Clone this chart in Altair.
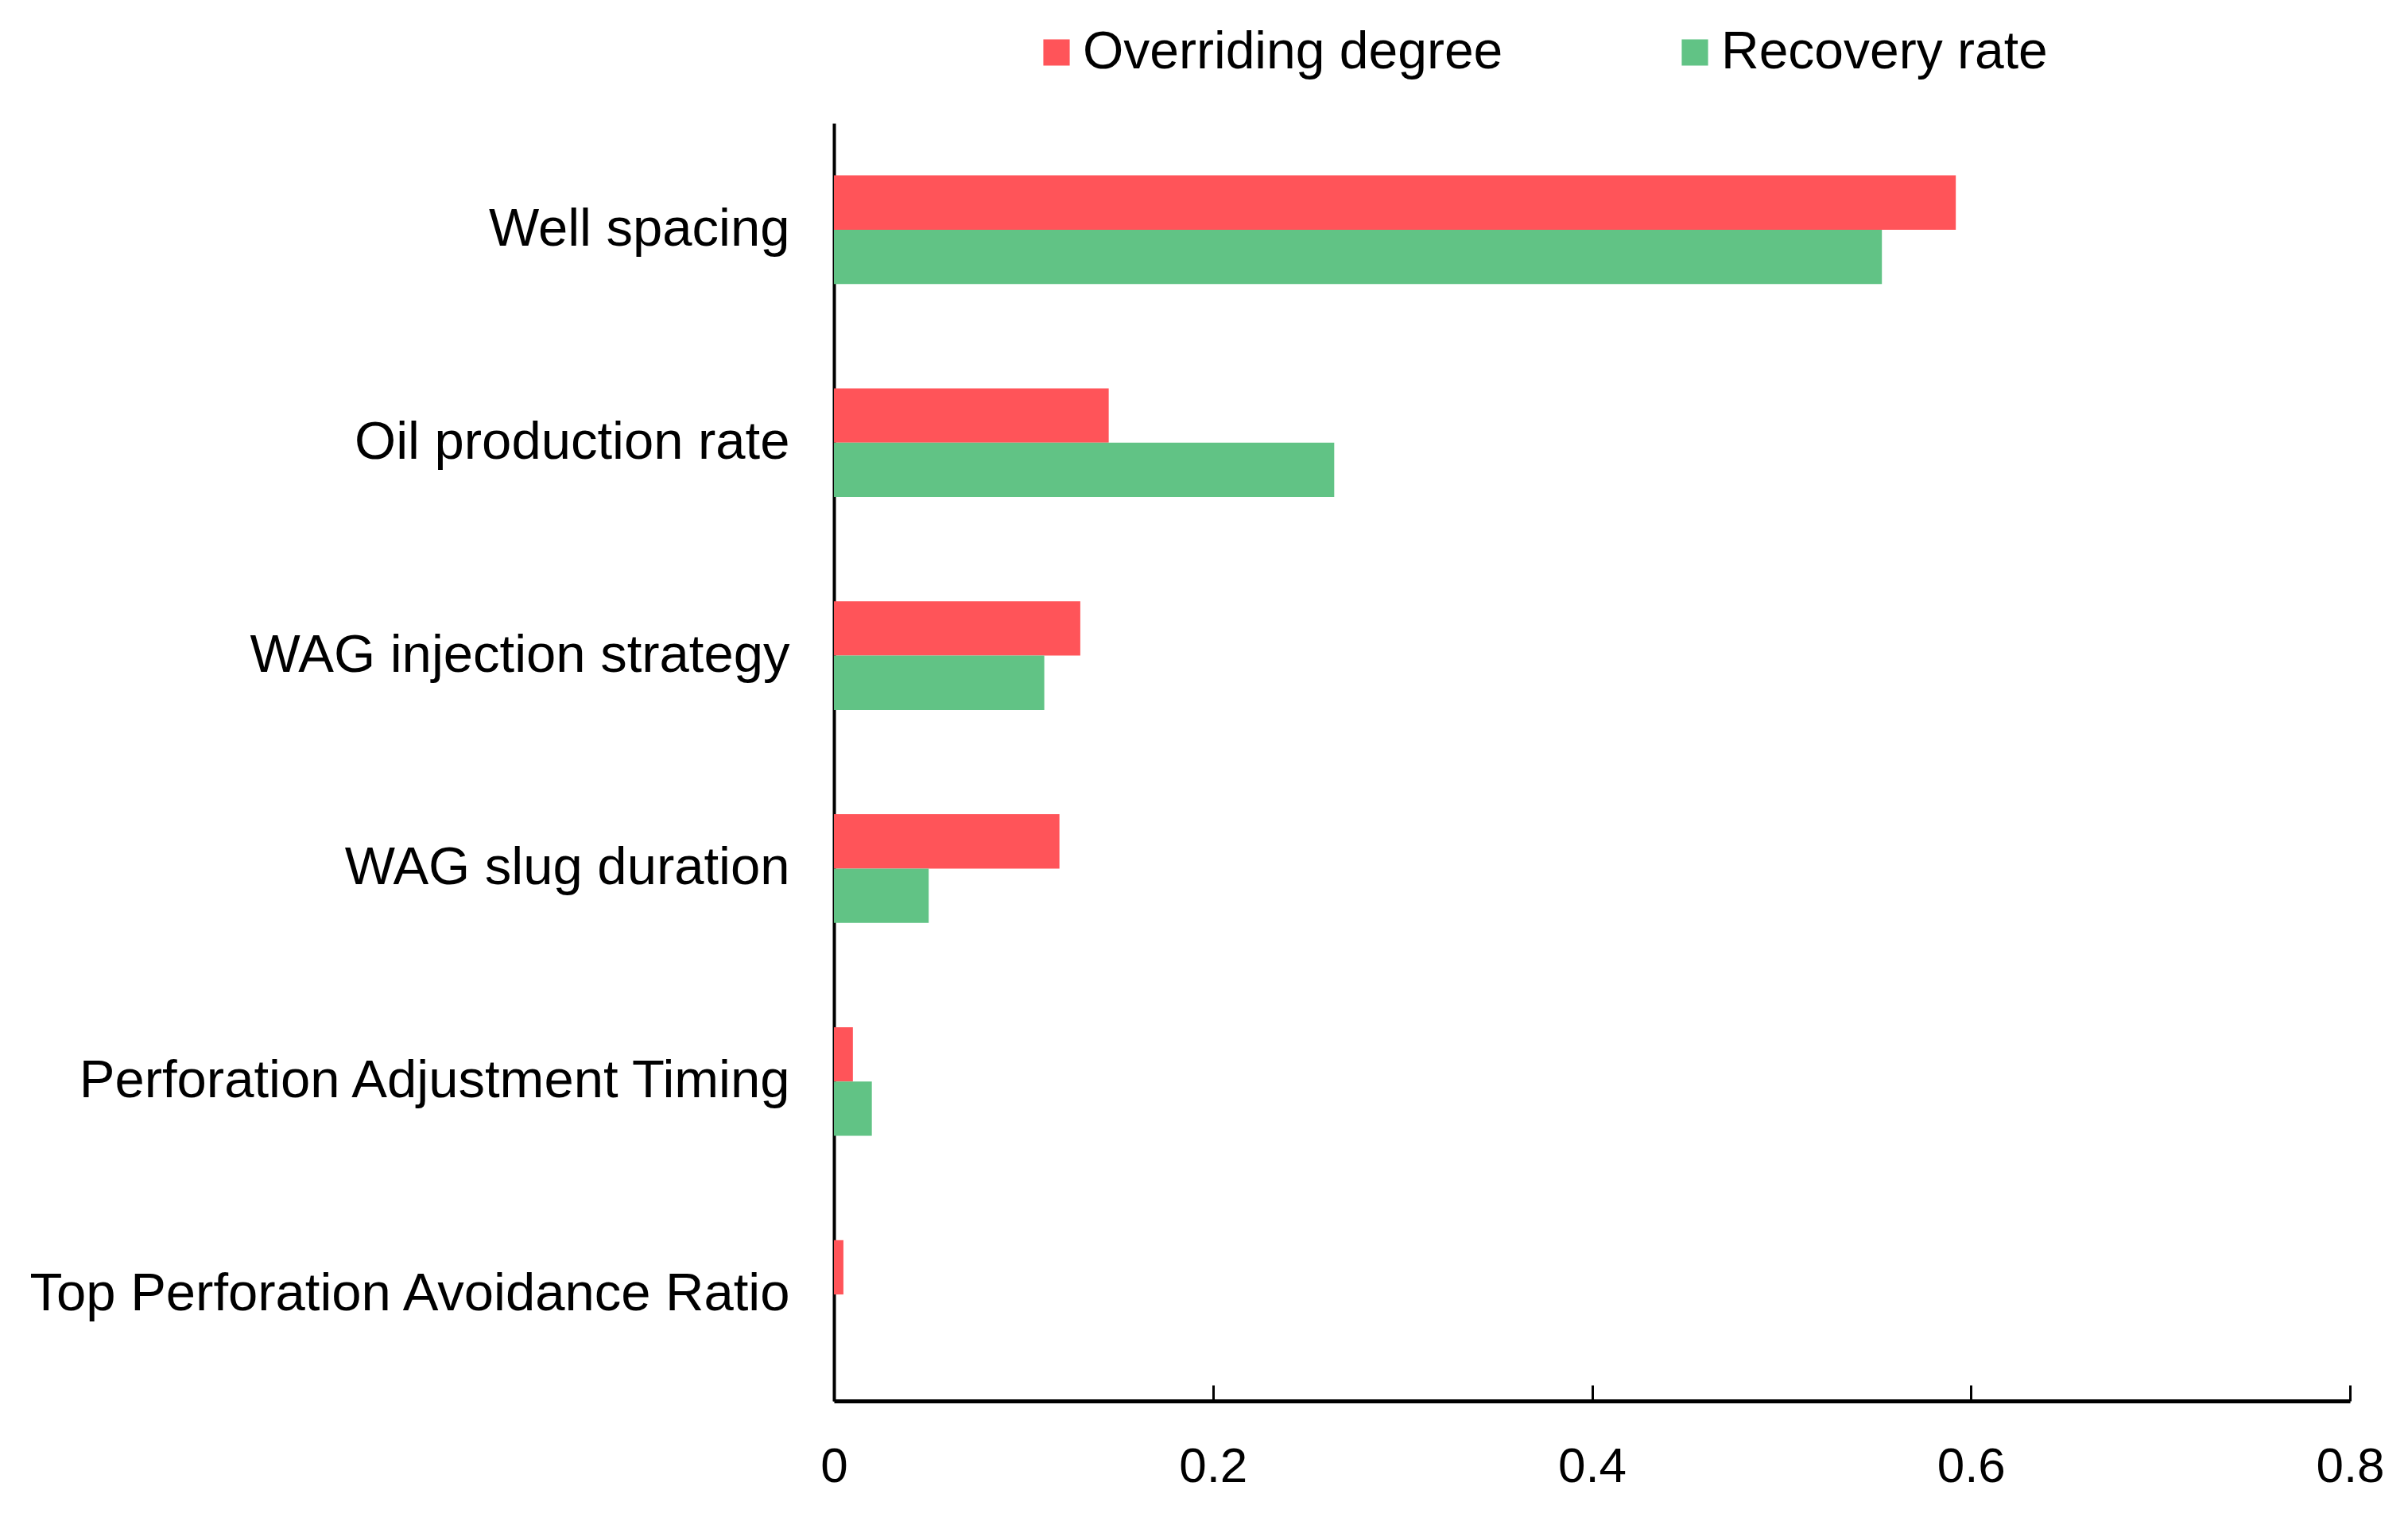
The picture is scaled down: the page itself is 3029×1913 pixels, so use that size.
import altair as alt
import pandas as pd

categories = [
    "Well spacing",
    "Oil production rate",
    "WAG injection strategy",
    "WAG slug duration",
    "Perforation Adjustment Timing",
    "Top Perforation Avoidance Ratio",
]
series = ["Overriding degree", "Recovery rate"]
overriding = [0.592, 0.145, 0.130, 0.119, 0.010, 0.005]
recovery = [0.553, 0.264, 0.111, 0.050, 0.020, 0.0]
colors = ["#FF5459", "#61C385"]
x_ticks = [0, 0.2, 0.4, 0.6, 0.8]

rows = []
for c, o, r in zip(categories, overriding, recovery):
    rows.append({"factor": c, "series": series[0], "value": o})
    rows.append({"factor": c, "series": series[1], "value": r})
df = pd.DataFrame(rows)

FONT = "Liberation Sans"

chart = (
    alt.Chart(df)
    .mark_bar()
    .encode(
        y=alt.Y(
            "factor:N",
            sort=categories,
            scale=alt.Scale(paddingInner=0.49, paddingOuter=0.245),
            axis=alt.Axis(
                title=None,
                ticks=False,
                labelFontSize=67,
                labelFont=FONT,
                labelColor="black",
                labelPadding=56,
                labelLimit=3000,
                domainColor="black",
                domainWidth=4,
                grid=False,
            ),
        ),
        yOffset=alt.YOffset("series:N", sort=series),
        x=alt.X(
            "value:Q",
            scale=alt.Scale(domain=[0, 0.8], nice=False),
            axis=alt.Axis(
                title=None,
                values=x_ticks,
                format=".1~f",
                labelFontSize=62,
                labelFont=FONT,
                labelColor="black",
                labelPadding=72,
                tickSize=alt.ExprRef("-20"),
                tickColor="black",
                tickWidth=3,
                domainColor="black",
                domainWidth=5,
                grid=False,
                labelFlush=False,
            ),
        ),
        color=alt.Color(
            "series:N",
            sort=series,
            scale=alt.Scale(domain=series, range=colors),
            legend=alt.Legend(
                title=None,
                orient="none",
                direction="horizontal",
                legendX=247,
                legendY=-122,
                symbolType="square",
                symbolSize=1100,
                symbolStrokeWidth=0,
                labelFontSize=66,
                labelFont=FONT,
                labelColor="black",
                labelLimit=3000,
                labelOffset=0,
                columnPadding=208,
                padding=0,
            ),
        ),
    )
    .properties(
        width=1907,
        height=1607,
        background="white",
        autosize=alt.AutoSizeParams(type="none"),
        padding={"left": 1041, "top": 147, "right": 65, "bottom": 143},
    )
    .configure_view(strokeWidth=0, stroke=None)
)

chart.save("out.html", embed_options={"renderer": "svg", "actions": False})
